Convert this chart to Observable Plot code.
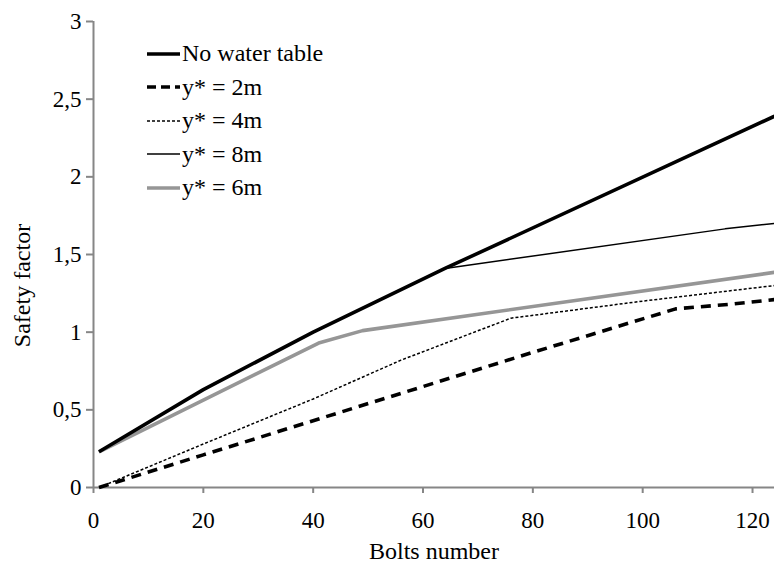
<!DOCTYPE html>
<html>
<head>
<meta charset="utf-8">
<script src="https://cdn.jsdelivr.net/npm/d3@7"></script>
<script src="https://cdn.jsdelivr.net/npm/@observablehq/plot@0.6"></script>
<style>
  html, body { margin: 0; padding: 0; background: #fff; }
  #wrap { position: relative; width: 774px; height: 566px; font-family: "Liberation Serif", "Times New Roman", serif; }
  #wrap svg text { font-family: "Liberation Serif", "Times New Roman", serif !important; }
  #legend { position: absolute; left: 147px; top: 37px; font-size: 24px; color: #000; font-family: "Liberation Serif", serif; }
  .row { display: flex; align-items: center; height: 33.5px; }
  .row svg { width: 33px; height: 12px; margin-right: 2px; }
</style>
</head>
<body>
<div id="wrap"><div id="legend"></div></div>
<script>
// ---- data ----
const seriesNames = ["No water table", "y* = 2m", "y* = 4m", "y* = 8m", "y* = 6m"];

const noWaterX = [1, 20, 40, 64, 124];
const noWaterY = [0.23, 0.63, 1.0, 1.41, 2.39];

const y2X = [1, 20, 40, 60, 80, 106, 116, 124];
const y2Y = [0, 0.21, 0.43, 0.65, 0.87, 1.15, 1.18, 1.21];

const y4X = [1, 20, 40, 56, 76, 100, 124];
const y4Y = [0, 0.28, 0.57, 0.82, 1.09, 1.20, 1.30];

const y8X = [1, 20, 40, 64, 115, 124];
const y8Y = [0.23, 0.63, 1.0, 1.41, 1.665, 1.70];

const y6X = [1, 41, 49, 124];
const y6Y = [0.23, 0.93, 1.01, 1.385];

const xTicks = [0, 20, 40, 60, 80, 100, 120];
const yTicks = [0, 0.5, 1, 1.5, 2, 2.5, 3];

// ---- build table ----
function rows(name, xs, ys) { return xs.map((x, i) => ({series: name, x, y: ys[i]})); }
const dNo = rows(seriesNames[0], noWaterX, noWaterY);
const d2 = rows(seriesNames[1], y2X, y2Y);
const d4 = rows(seriesNames[2], y4X, y4Y);
const d8 = rows(seriesNames[3], y8X, y8Y);
const d6 = rows(seriesNames[4], y6X, y6Y);

const styles = {
  "No water table": {stroke: "#000", strokeWidth: 3.6, dash: null},
  "y* = 2m": {stroke: "#000", strokeWidth: 3.6, dash: "10,7"},
  "y* = 4m": {stroke: "#000", strokeWidth: 1.5, dash: "3,2"},
  "y* = 8m": {stroke: "#000", strokeWidth: 1.5, dash: null},
  "y* = 6m": {stroke: "#969696", strokeWidth: 3.6, dash: null}
};
function lineOf(data, name) {
  const s = styles[name];
  return Plot.line(data, {x: "x", y: "y", stroke: s.stroke, strokeWidth: s.strokeWidth,
    strokeDasharray: s.dash || undefined, strokeLinecap: "butt", strokeLinejoin: "round"});
}

const axisColor = "#868686";
const fmt = d => String(d).replace(".", ",");

const chart = Plot.plot({
  width: 774,
  height: 566,
  marginLeft: 93,
  marginTop: 21,
  marginBottom: 79,
  marginRight: 0,
  style: {fontFamily: "'Liberation Serif', 'Times New Roman', serif", fontSize: "22px", background: "#fff", color: "#000"},
  x: {domain: [0, 124]},
  y: {domain: [0, 3]},
  marks: [
    Plot.ruleX([0], {stroke: axisColor, strokeWidth: 2}),
    Plot.ruleY([0], {stroke: axisColor, strokeWidth: 2}),
    Plot.axisX(xTicks, {tickSize: 6, tickPadding: 18, stroke: axisColor, strokeWidth: 2, fill: "#000", label: null, tickFormat: fmt, fontSize: 23}),
    Plot.axisY(yTicks, {tickSize: 7, tickPadding: 5, stroke: axisColor, strokeWidth: 2, fill: "#000", label: null, tickFormat: fmt, fontSize: 23}),
    lineOf(d8, "y* = 8m"),
    lineOf(d6, "y* = 6m"),
    lineOf(d4, "y* = 4m"),
    lineOf(d2, "y* = 2m"),
    lineOf(dNo, "No water table"),
    Plot.text(["Bolts number"], {frameAnchor: "bottom", text: d => d, lineAnchor: "top", textAnchor: "middle", dy: 54, fill: "#000", fontSize: 24}),
    Plot.text(["Safety factor"], {frameAnchor: "left", text: d => d, rotate: -90, textAnchor: "middle", lineAnchor: "middle", dx: -71, dy: 31, fill: "#000", fontSize: 24})
  ]
});

const wrap = document.getElementById("wrap");
wrap.insertBefore(chart, wrap.firstChild);

// legend
const legend = document.getElementById("legend");
for (const name of seriesNames) {
  const s = styles[name];
  const row = document.createElement("div");
  row.className = "row";
  const dash = name === "y* = 2m" ? "9,5" : (s.dash || "");
  row.innerHTML = `<svg viewBox="0 0 33 12"><line x1="0" y1="6" x2="33" y2="6" stroke="${s.stroke}" stroke-width="${s.strokeWidth}" ${dash ? `stroke-dasharray="${dash}"` : ""}/></svg><span>${name}</span>`;
  legend.appendChild(row);
}
</script>
</body>
</html>
